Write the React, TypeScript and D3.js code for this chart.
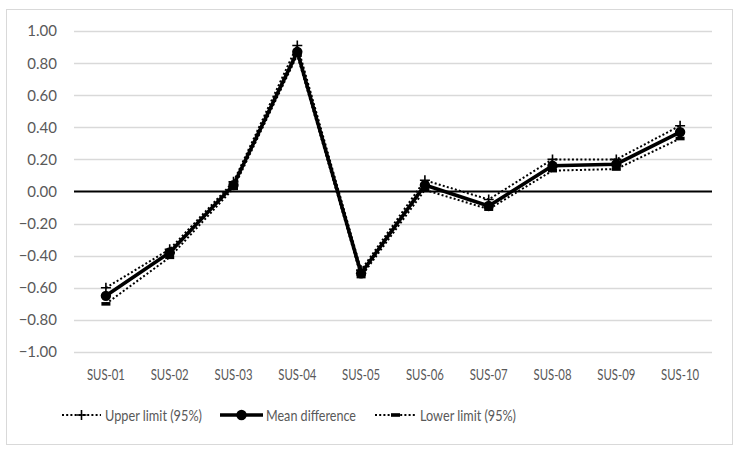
import * as d3 from "d3";
import { useEffect, useRef } from "react";

const categories = ["SUS-01", "SUS-02", "SUS-03", "SUS-04", "SUS-05", "SUS-06", "SUS-07", "SUS-08", "SUS-09", "SUS-10"];
const upperLimit = [-0.6, -0.36, 0.06, 0.91, -0.49, 0.07, -0.05, 0.2, 0.2, 0.41];
const meanDiff = [-0.65, -0.38, 0.04, 0.87, -0.51, 0.04, -0.09, 0.16, 0.17, 0.37];
const lowerLimit = [-0.7, -0.41, 0.02, 0.85, -0.53, 0.01, -0.11, 0.13, 0.14, 0.33];
const yTicks = [1, 0.8, 0.6, 0.4, 0.2, 0, -0.2, -0.4, -0.6, -0.8, -1];
const legendLabels = ["Upper limit (95%)", "Mean difference", "Lower limit (95%)"];

const W = 740;
const H = 454;
const FONT = "Lato, 'Open Sans', sans-serif";
const TEXT = "#595959";

export default function App() {
  const svgRef = useRef<SVGSVGElement>(null);

  useEffect(() => {
    const svg = d3.select(svgRef.current);
    svg.selectAll("*").remove();

    const margin = { left: 74, right: 712, top: 31, bottom: 352 };

    // chart area border
    svg.append("rect")
      .attr("x", 6.5).attr("y", 9.5)
      .attr("width", 726).attr("height", 435)
      .attr("fill", "#fff").attr("stroke", "#d9d9d9");

    const x = d3.scaleBand().domain(categories).range([margin.left, margin.right]);
    const y = d3.scaleLinear().domain([-1, 1]).range([margin.bottom, margin.top]);

    // gridlines + y labels
    const grid = svg.append("g");
    grid.selectAll("line")
      .data(yTicks.filter((t) => t !== 0))
      .join("line")
      .attr("x1", margin.left).attr("x2", margin.right)
      .attr("y1", (d) => Math.round(y(d)) + 0.5).attr("y2", (d) => Math.round(y(d)) + 0.5)
      .attr("stroke", "#d9d9d9").attr("stroke-width", 1.3);

    grid.selectAll("text")
      .data(yTicks)
      .join("text")
      .attr("x", 57).attr("y", (d) => y(d))
      .attr("dy", "0.36em")
      .attr("text-anchor", "end")
      .attr("font-family", FONT).attr("font-size", 15).attr("fill", TEXT)
      .text((d) => d3.format(".2f")(d));

    // zero axis line
    svg.append("line")
      .attr("x1", margin.left).attr("x2", margin.right)
      .attr("y1", y(0)).attr("y2", y(0))
      .attr("stroke", "#000").attr("stroke-width", 2.2);

    // category labels (narrowed to mimic Calibri)
    svg.append("g").selectAll("text")
      .data(categories)
      .join("text")
      .attr("x", (d) => x(d)! + x.bandwidth() / 2 - 19)
      .attr("y", 375).attr("dy", "0.36em")
      .attr("textLength", 38).attr("lengthAdjust", "spacingAndGlyphs")
      .attr("font-family", FONT).attr("font-size", 14.5).attr("fill", TEXT)
      .text((d) => d);

    const cx = (i: number) => x(categories[i])! + x.bandwidth() / 2;
    const line = d3.line<number>().x((_, i) => cx(i)).y((d) => y(d));

    const drawPlus = (g: any, px: number, py: number) => {
      g.append("path")
        .attr("d", `M${px - 5},${py}H${px + 5}M${px},${py - 5}V${py + 5}`)
        .attr("stroke", "#000").attr("stroke-width", 1.6).attr("fill", "none");
    };
    const drawDash = (g: any, px: number, py: number) => {
      g.append("rect")
        .attr("x", px - 4.5).attr("y", py - 1.8).attr("width", 9).attr("height", 3.6)
        .attr("fill", "#000");
    };
    const drawDot = (g: any, px: number, py: number) => {
      g.append("circle").attr("cx", px).attr("cy", py).attr("r", 5.2).attr("fill", "#000");
    };

    const series = [
      { values: upperLimit, width: 2, dash: "2 2.2", marker: drawPlus },
      { values: meanDiff, width: 3.6, dash: null, marker: drawDot },
      { values: lowerLimit, width: 2, dash: "2 2.2", marker: drawDash },
    ];

    const plot = svg.append("g");
    series.forEach((s) => {
      const g = plot.append("g");
      g.append("path")
        .attr("d", line(s.values))
        .attr("fill", "none").attr("stroke", "#000")
        .attr("stroke-width", s.width)
        .attr("stroke-linejoin", "round")
        .attr("stroke-dasharray", s.dash);
      s.values.forEach((v, i) => s.marker(g, cx(i), y(v)));
    });

    // legend
    const legendY = 415;
    const items = [
      { x0: 62, x1: 101, tx: 105, tw: 97 },
      { x0: 220, x1: 263, tx: 266, tw: 90 },
      { x0: 375, x1: 416, tx: 420, tw: 96 },
    ];
    const legend = svg.append("g");
    items.forEach((it, k) => {
      const s = series[k];
      legend.append("line")
        .attr("x1", it.x0).attr("x2", it.x1)
        .attr("y1", legendY).attr("y2", legendY)
        .attr("stroke", "#000").attr("stroke-width", s.width)
        .attr("stroke-dasharray", s.dash);
      s.marker(legend, (it.x0 + it.x1) / 2, legendY);
      legend.append("text")
        .attr("x", it.tx).attr("y", legendY).attr("dy", "0.36em")
        .attr("textLength", it.tw).attr("lengthAdjust", "spacingAndGlyphs")
        .attr("font-family", FONT).attr("font-size", 16).attr("fill", TEXT)
        .text(legendLabels[k]);
    });
  }, []);

  return (
    <svg
      ref={svgRef}
      width={W}
      height={H}
      style={{ position: "absolute", left: 0, top: 0, display: "block", background: "#fff" }}
    />
  );
}
